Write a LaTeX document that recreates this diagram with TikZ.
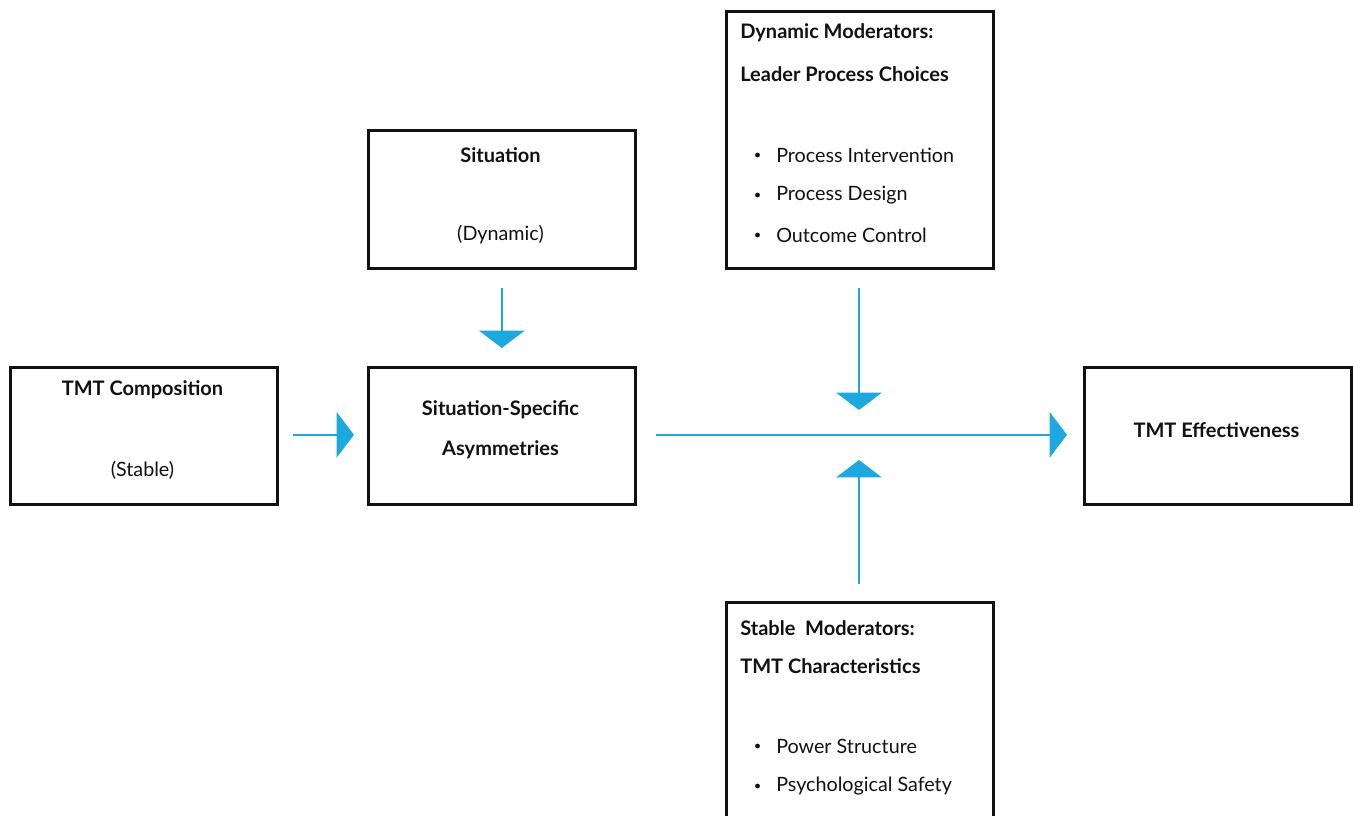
\documentclass[tikz,border=0pt]{standalone}
\usepackage{fontspec}
\setmainfont{Lato}
\usetikzlibrary{arrows.meta}
\definecolor{flow}{RGB}{30,168,224}
\definecolor{ink}{RGB}{17,17,17}
\tikzset{
  box/.style={draw=ink, line width=2pt, anchor=north west, inner sep=0pt},
  head/.style={font=\fontsize{15pt}{18pt}\selectfont\bfseries, text=ink, inner sep=0pt},
  body/.style={font=\fontsize{14.8pt}{18pt}\selectfont, text=ink, inner sep=0pt},
  dot/.style={circle, fill=ink, inner sep=0pt, minimum size=3.6pt},
  flowline/.style={draw=flow, line width=1.5pt, -{Triangle[width=34pt,length=13pt]}},
}
\begin{document}
\begin{tikzpicture}[x=0.75pt,y=-0.75pt]
\useasboundingbox (0,0) rectangle (1353,815);
\clip (0,0) rectangle (1353,815);

% boxes
\node[box, minimum width=200.25pt, minimum height=102.75pt] (comp) at (9,366) {};
\node[box, minimum width=200.25pt, minimum height=102.75pt] (asym) at (367,366) {};
\node[box, minimum width=200.25pt, minimum height=103.5pt] (sit) at (367,129) {};
\node[box, minimum width=200.25pt, minimum height=192.75pt] (dyn) at (725,10) {};
\node[box, minimum width=200.25pt, minimum height=102.75pt] (eff) at (1083,366) {};
\node[box, minimum width=200.25pt, minimum height=180pt] (stab) at (725,601) {};

% texts
\node[head] (compT) at (142.5,390) {TMT Composition};
\node[body] (compS) at (142.5,470) {(Stable)};
\node[head] (asymA) at (500.5,410) {Situation-Specific};
\node[head] (asymB) at (500.5,450) {Asymmetries};
\node[head] (sitT) at (500.5,155) {Situation};
\node[body] (sitS) at (500.5,235) {(Dynamic)};
\node[head] (effT) at (1216.5,430) {TMT Effectiveness};

\node[head, anchor=west] (dynA) at (740,33) {Dynamic Moderators:};
\node[head, anchor=west] (dynB) at (740,74) {Leader Process Choices};
\foreach \y/\t [count=\i] in {155/Process Intervention,195/Process Design,235/Outcome Control}{
  \node[dot] (dynBul\i) at (757.5,\y) {};
  \node[body, anchor=west] (dynItem\i) at (776,\y) {\t};
}

\node[head, anchor=west] (stabA) at (740,628) {Stable\ \ Moderators:};
\node[head, anchor=west] (stabB) at (740,666) {TMT Characteristics};
\foreach \y/\t [count=\i] in {746/Power Structure,786/Psychological Safety}{
  \node[dot] (stabBul\i) at (757.5,\y) {};
  \node[body, anchor=west] (stabItem\i) at (776,\y) {\t};
}

% junction on the main path where the moderators act
\coordinate (mod) at (859,434);

% connectors
\draw[flowline, shorten <=10.5pt, shorten >=9.75pt] ([yshift=0.75pt]comp.east) -- ([yshift=0.75pt]asym.west);
\draw[flowline, shorten <=13.5pt, shorten >=13.5pt] (sit.south) -- (asym.north);
\draw[flowline, shorten <=14.25pt, shorten >=12pt] ([yshift=0.75pt]asym.east) -- ([yshift=0.75pt]eff.west);
\draw[flowline, shorten <=13.5pt, shorten >=18pt] (dyn.south -| mod) -- (mod);
\draw[flowline, shorten <=12.75pt, shorten >=19.5pt] (stab.north -| mod) -- (mod);
\end{tikzpicture}
\end{document}
